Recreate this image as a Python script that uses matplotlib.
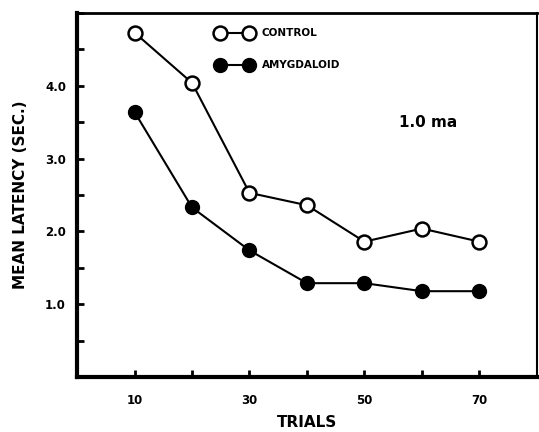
import matplotlib
matplotlib.use("Agg")
import matplotlib.pyplot as plt
from matplotlib.ticker import MultipleLocator, FixedLocator

# data
trials = [10, 20, 30, 40, 50, 60, 70]
control = [4.73, 4.04, 2.53, 2.36, 1.86, 2.04, 1.86]
amygdaloid = [3.64, 2.33, 1.74, 1.29, 1.29, 1.18, 1.18]
xticks = [10, 30, 50, 70]
yticks = [1.0, 2.0, 3.0, 4.0]

plt.rcParams['font.family'] = "DejaVu Sans"

fig = plt.figure(figsize=(5.39, 4.32), dpi=100)
ax = fig.add_axes([0.143, 0.127, 0.853, 0.843])

ax.plot(trials, control, color="black", lw=1.5, marker="o", ms=10,
        mfc="white", mec="black", mew=1.8, label="CONTROL")
ax.plot(trials, amygdaloid, color="black", lw=1.5, marker="o", ms=10,
        mfc="black", mec="black", label="AMYGDALOID")

ax.set_xlim(0, 80)
ax.set_ylim(0, 5)
ax.set_xticks(xticks)
ax.set_xticklabels([str(t) for t in xticks], fontweight="bold", fontsize=8.5)
ax.xaxis.set_minor_locator(FixedLocator(trials))
ax.set_yticks(yticks)
ax.set_yticklabels(["%.1f" % t for t in yticks], fontweight="bold", fontsize=8.5)
ax.yaxis.set_minor_locator(MultipleLocator(0.5))
ax.tick_params(which="both", direction="in", width=2, length=5)
ax.tick_params(axis="x", pad=12)
ax.tick_params(axis="y", pad=8)

ax.spines["left"].set_linewidth(3)
ax.spines["bottom"].set_linewidth(3)
ax.spines["top"].set_linewidth(2)
ax.spines["right"].set_linewidth(1.5)

ax.set_xlabel("TRIALS", fontweight="bold", fontsize=11, labelpad=6)
ax.set_ylabel("MEAN LATENCY (SEC.)", fontweight="bold", fontsize=11, labelpad=12)

ax.text(0.70, 0.70, "1.0 ma", transform=ax.transAxes, fontsize=11,
        fontweight="bold", va="center")

ax.legend(loc="upper left", bbox_to_anchor=(0.271, 1.0), frameon=False,
          handlelength=3.4, handletextpad=0.9, labelspacing=2.1,
          prop={"weight": "bold", "size": 7.5}, numpoints=2, borderaxespad=1.07)

fig.savefig("out.png", dpi=100)
